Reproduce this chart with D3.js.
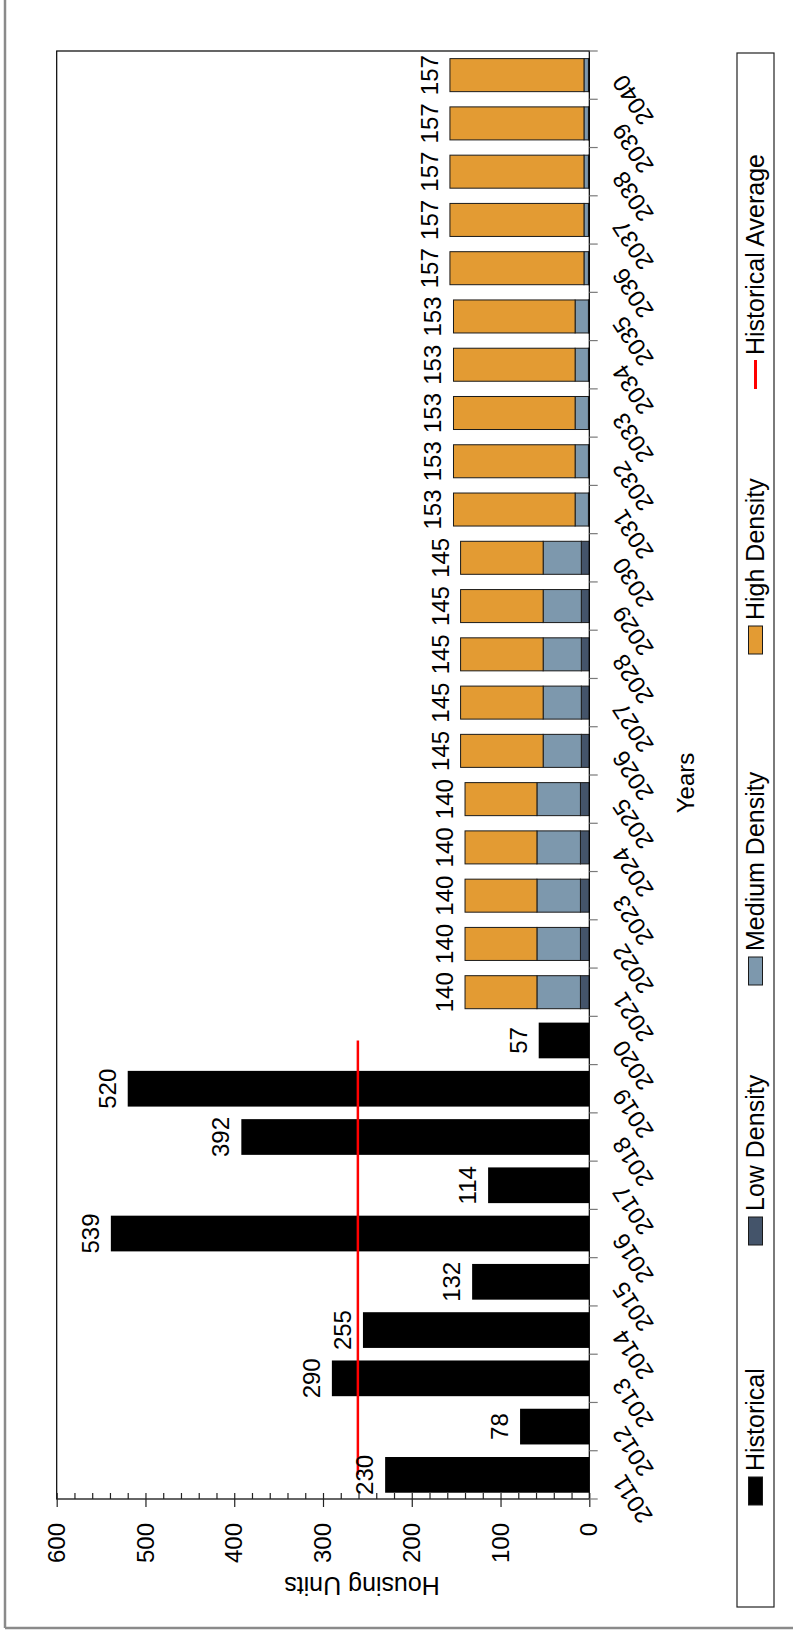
<!DOCTYPE html>
<html>
<head>
<meta charset="utf-8">
<script src="https://cdn.jsdelivr.net/npm/d3@7/dist/d3.min.js"></script>
<style>
  html, body { margin: 0; padding: 0; background: #fff; }
  svg { display: block; }
  text { font-family: "Liberation Sans", Arial, Helvetica, sans-serif; fill: #000; }
</style>
</head>
<body>
<svg id="chart" width="793" height="1638"></svg>
<script>
// ---- data ----
const years = ["2011","2012","2013","2014","2015","2016","2017","2018","2019","2020",
  "2021","2022","2023","2024","2025","2026","2027","2028","2029","2030",
  "2031","2032","2033","2034","2035","2036","2037","2038","2039","2040"];
const historicalYears = ["2011","2012","2013","2014","2015","2016","2017","2018","2019","2020"];
const historical = [230, 78, 290, 255, 132, 539, 114, 392, 520, 57];
const projYears = ["2021","2022","2023","2024","2025","2026","2027","2028","2029","2030",
  "2031","2032","2033","2034","2035","2036","2037","2038","2039","2040"];
const lowDensity    = [10,10,10,10,10, 9,9,9,9,9, 1,1,1,1,1, 1,1,1,1,1];
const mediumDensity = [49,49,49,49,49, 43,43,43,43,43, 15,15,15,15,15, 5,5,5,5,5];
const highDensity   = [81,81,81,81,81, 93,93,93,93,93, 137,137,137,137,137, 151,151,151,151,151];
const yTickValues = [0, 100, 200, 300, 400, 500, 600];
const yMinorValues = d3.range(0, 601, 20);
const legendLabels = ["Historical", "Low Density", "Medium Density", "High Density", "Historical Average"];
const colors = { historical: "#000000", low: "#44546A", medium: "#7D98AD", high: "#E39B33", avg: "#FF0000" };

// ---- layout (original, unrotated frame: 1638 wide x 793 tall) ----
const W = 1638, H = 793;
const plot = { left: 139, right: 1587, top: 56.7, bottom: 589.3 };
const FS = 24;

const svg = d3.select("#chart");
const g = svg.append("g").attr("transform", `translate(0,${W}) rotate(-90)`);

// outer frame (partial)
g.append("line").attr("x1", 10).attr("x2", W).attr("y1", 5).attr("y2", 5)
  .attr("stroke", "#8a8a8a").attr("stroke-width", 2.5);
g.append("line").attr("x1", 10).attr("x2", 10).attr("y1", 5).attr("y2", H)
  .attr("stroke", "#8a8a8a").attr("stroke-width", 2.5);

const x = d3.scaleBand().domain(years).range([plot.left, plot.right])
  .paddingInner(0.26).paddingOuter(0.13);
const y = d3.scaleLinear().domain([0, 600]).range([plot.bottom, plot.top]);
const bw = x.bandwidth();
const cx = d => x(d) + bw / 2;

// historical bars
g.append("g").selectAll("rect").data(historicalYears).join("rect")
  .attr("x", d => x(d)).attr("width", bw)
  .attr("y", (d, i) => y(historical[i]))
  .attr("height", (d, i) => y(0) - y(historical[i]))
  .attr("fill", colors.historical);

// stacked projection bars
const rows = projYears.map((yr, i) => ({ year: yr, low: lowDensity[i], medium: mediumDensity[i], high: highDensity[i] }));
const keys = ["low", "medium", "high"];
const stack = d3.stack().keys(keys)(rows);
const inset = 1.35;
g.append("g").selectAll("g").data(stack).join("g")
  .attr("fill", s => colors[s.key])
  .selectAll("rect").data(s => s).join("rect")
  .attr("x", d => x(d.data.year) + inset).attr("width", bw - 2 * inset)
  .attr("y", d => y(d[1])).attr("height", d => y(d[0]) - y(d[1]))
  .attr("stroke", "#1a1a1a").attr("stroke-width", 1);

// historical average line
const avg = d3.mean(historical);
g.append("line")
  .attr("x1", cx(historicalYears[0])).attr("x2", cx(historicalYears[historicalYears.length - 1]))
  .attr("y1", y(avg)).attr("y2", y(avg))
  .attr("stroke", colors.avg).attr("stroke-width", 2.5);

// value labels
g.append("g").selectAll("text").data(historicalYears).join("text")
  .attr("x", d => cx(d)).attr("y", (d, i) => y(historical[i]) - 12)
  .attr("text-anchor", "middle").attr("font-size", FS)
  .text((d, i) => historical[i]);
g.append("g").selectAll("text").data(rows).join("text")
  .attr("x", d => cx(d.year)).attr("y", d => y(d.low + d.medium + d.high) - 12)
  .attr("text-anchor", "middle").attr("font-size", FS)
  .text(d => d.low + d.medium + d.high);

// plot box
g.append("rect").attr("x", plot.left).attr("y", plot.top)
  .attr("width", plot.right - plot.left).attr("height", plot.bottom - plot.top)
  .attr("fill", "none").attr("stroke", "#000").attr("stroke-width", 1.2);

// y axis (labels + outward major ticks)
const yAxis = g.append("g").attr("transform", `translate(${plot.left},0)`)
  .call(d3.axisLeft(y).tickValues(yTickValues).tickSize(8).tickPadding(16));
yAxis.select(".domain").remove();
yAxis.selectAll("line").attr("stroke", "#222").attr("stroke-width", 1.2);
yAxis.selectAll("text").attr("font-size", FS).attr("font-family", "Liberation Sans, Arial, sans-serif").attr("fill", "#000");
// inward minor/major ticks
const yIn = g.append("g").attr("transform", `translate(${plot.left},0)`)
  .call(d3.axisRight(y).tickValues(yMinorValues).tickSize(6).tickFormat(""));
yIn.select(".domain").remove();
yIn.selectAll("line").attr("stroke", "#222").attr("stroke-width", 1.2);

// x axis ticks at category boundaries
const half = (x.step() - bw) / 2;
const bounds = years.map(d => x(d) - half).concat([x(years[years.length - 1]) + bw + half]);
g.append("g").selectAll("line").data(bounds).join("line")
  .attr("x1", d => d).attr("x2", d => d)
  .attr("y1", plot.bottom).attr("y2", plot.bottom + 8.4)
  .attr("stroke", "#7a7a7a").attr("stroke-width", 1.2);

// x tick labels (rotated)
g.append("g").selectAll("text").data(years).join("text")
  .attr("transform", d => `translate(${cx(d) + 2},${plot.bottom + 36}) rotate(-33)`)
  .attr("text-anchor", "end").attr("font-size", FS)
  .text(d => d);

// axis titles
g.append("text").attr("transform", `translate(61,362) rotate(-90)`)
  .attr("text-anchor", "middle").attr("font-size", 25).text("Housing Units");
g.append("text").attr("x", 855).attr("y", 694)
  .attr("text-anchor", "middle").attr("font-size", FS).text("Years");

// legend
const legend = g.append("g");
legend.append("rect").attr("x", 31).attr("y", 737).attr("width", 1554).attr("height", 37)
  .attr("fill", "none").attr("stroke", "#222").attr("stroke-width", 1.2);
const legendX = [133, 393, 653, 984, 1249];
const legendKinds = ["historical", "low", "medium", "high", "avg"];
legendKinds.forEach((k, i) => {
  if (k === "avg") {
    legend.append("line").attr("x1", legendX[i]).attr("x2", legendX[i] + 29)
      .attr("y1", 755.5).attr("y2", 755.5).attr("stroke", colors.avg).attr("stroke-width", 3);
  } else {
    legend.append("rect").attr("x", legendX[i]).attr("y", 748.5).attr("width", 28).attr("height", 14)
      .attr("fill", colors[k]).attr("stroke", "#1a1a1a").attr("stroke-width", 1);
  }
  legend.append("text").attr("x", legendX[i] + 34).attr("y", 764)
    .attr("font-size", 25).text(legendLabels[i]);
});
</script>
</body>
</html>
